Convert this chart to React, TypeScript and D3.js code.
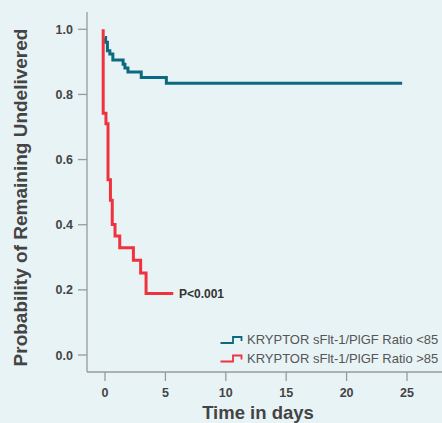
import * as d3 from 'd3'

const width = 442, height = 423

// Kaplan-Meier steps
const lowTimes = [0, 0.05, 0.2, 0.4, 0.65, 1.5, 1.65, 1.9, 3.0, 5.08, 24.6]
const lowSurv = [0.975, 0.96, 0.934, 0.924, 0.906, 0.893, 0.881, 0.869, 0.852, 0.834, 0.834]

const highTimes = [-0.15, -0.15, 0.08, 0.25, 0.45, 0.6, 0.83, 1.22, 2.35, 2.95, 3.4, 5.65]
const highSurv = [1.0, 0.742, 0.71, 0.538, 0.475, 0.401, 0.365, 0.329, 0.291, 0.252, 0.189, 0.189]

const xTicks = [0, 5, 10, 15, 20, 25]
const yTicks = [0, 0.2, 0.4, 0.6, 0.8, 1.0]

const legendLabels = ['KRYPTOR sFlt-1/PlGF Ratio <85', 'KRYPTOR sFlt-1/PlGF Ratio >85']
const colors = ['#0b6a80', '#ef323d']

const font = '"Liberation Sans", Arial, Helvetica, sans-serif'

const x = d3.scaleLinear().domain([0, 25]).range([105, 407])
const y = d3.scaleLinear().domain([0, 1]).range([355, 29.3])

const line = d3.line<[number, number]>()
  .x(d => x(d[0]))
  .y(d => y(d[1]))
  .curve(d3.curveStepAfter)

const series = [
  d3.zip(lowTimes, lowSurv) as [number, number][],
  d3.zip(highTimes, highSurv) as [number, number][],
]

export default function App() {
  const axisX = 87, axisY = 372
  return (
    <svg width={width} height={height} style={{ position: 'absolute', left: 0, top: 0, background: '#e8f3f5' }}
      fontFamily={font}>
      <rect width={width} height={height} fill="#e8f3f5" />
      {/* axes */}
      <line x1={axisX} x2={axisX} y1={12} y2={axisY} stroke="#9a9a9a" strokeWidth={1.3} />
      <line x1={axisX} x2={width} y1={axisY} y2={axisY} stroke="#9a9a9a" strokeWidth={1.3} />
      {yTicks.map(t => (
        <g key={t}>
          <line x1={78} x2={axisX} y1={y(t)} y2={y(t)} stroke="#9a9a9a" strokeWidth={1.3} />
          <text x={73} y={y(t)} dy="0.36em" textAnchor="end" fontSize={12.5} fontWeight="bold" fill="#444">
            {t.toFixed(1)}
          </text>
        </g>
      ))}
      {xTicks.map(t => (
        <g key={t}>
          <line x1={x(t)} x2={x(t)} y1={axisY} y2={381} stroke="#9a9a9a" strokeWidth={1.3} />
          <text x={x(t)} y={397} textAnchor="middle" fontSize={12.5} fontWeight="bold" fill="#444">{t}</text>
        </g>
      ))}
      <text transform="translate(27,197.5) rotate(-90)" textAnchor="middle" fontSize={19} fontWeight="bold" fill="#444">
        Probability of Remaining Undelivered
      </text>
      <text x={258} y={418.5} textAnchor="middle" fontSize={18.5} fontWeight="bold" fill="#444">Time in days</text>

      {/* curves */}
      {series.map((s, i) => (
        <path key={i} d={line(s) ?? ''} fill="none" stroke={colors[i]} strokeWidth={3} />
      ))}
      <text x={179} y={297.5} fontSize={12} fontWeight="bold" fill="#333">P&lt;0.001</text>

      {/* legend */}
      {legendLabels.map((l, i) => {
        const base = 344 + i * 18.5
        return (
          <g key={l}>
            <path d={`M220.5,${base - 1}H233V${base - 7}H241.5V${base - 3}`} fill="none" stroke={colors[i]} strokeWidth={1.8} />
            <text x={247} y={base} fontSize={13} fill="#555">{l}</text>
          </g>
        )
      })}
    </svg>
  )
}
